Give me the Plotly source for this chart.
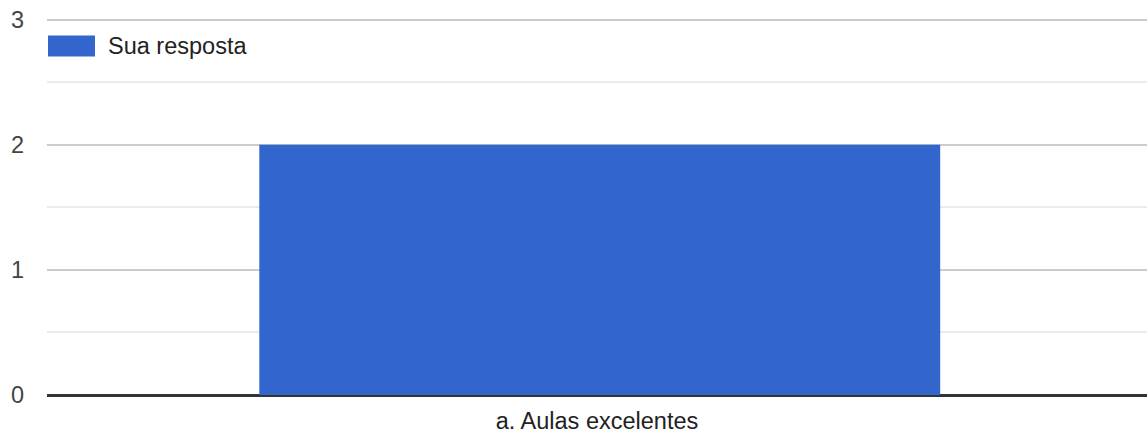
import plotly.graph_objects as go

categories = ["a. Aulas excelentes"]
values = [2]
series_name = "Sua resposta"
y_ticks = [0, 1, 2, 3]

W, H = 1147, 437
ymax = 3.02
ml, mr, mb = 47, 0, 42
mt = 20 - 125 * (ymax - 3)
pw, ph = W - ml - mr, H - mt - mb

def px_x(x):
    return (x - ml) / pw

def px_y(y):
    return (H - mb - y) / ph

fig = go.Figure()
fig.add_trace(go.Bar(
    x=categories, y=values, name=series_name,
    marker=dict(color="#3366cc", line=dict(width=0)),
    width=0.619, offset=-0.307, showlegend=False,
    hoverinfo="skip",
))

# custom legend
fig.add_shape(type="rect", xref="paper", yref="paper",
              x0=px_x(48), x1=px_x(95), y0=px_y(57), y1=px_y(36),
              fillcolor="#3366cc", line=dict(width=0))
fig.add_annotation(text=series_name, xref="paper", yref="paper",
                   x=px_x(106), y=px_y(46.5), xanchor="left", yanchor="middle",
                   showarrow=False, font=dict(size=23.5, color="#222222"))

fig.update_layout(
    width=W, height=H,
    margin=dict(l=ml, r=mr, t=mt, b=mb, pad=0),
    paper_bgcolor="white", plot_bgcolor="white",
    font=dict(family="Arial, Liberation Sans, sans-serif", size=23.5, color="#222222"),
    showlegend=False,
    xaxis=dict(showgrid=False, showline=False, ticks="", automargin=False,
               ticklabelstandoff=9, tickfont=dict(color="#222222")),
    yaxis=dict(range=[0, ymax], tickvals=y_ticks, showgrid=True, gridcolor="#cccccc", gridwidth=2,
               minor=dict(dtick=0.5, showgrid=True, gridcolor="#ebebeb", gridwidth=2),
               zeroline=True, zerolinecolor="#333333", zerolinewidth=2.5, automargin=False,
               tickfont=dict(color="#444444"), ticklabelstandoff=22, showline=False),
)
fig.write_html("out.html", config={"displayModeBar": False},
               post_script="document.body.style.margin='0';document.body.style.padding='0';")
